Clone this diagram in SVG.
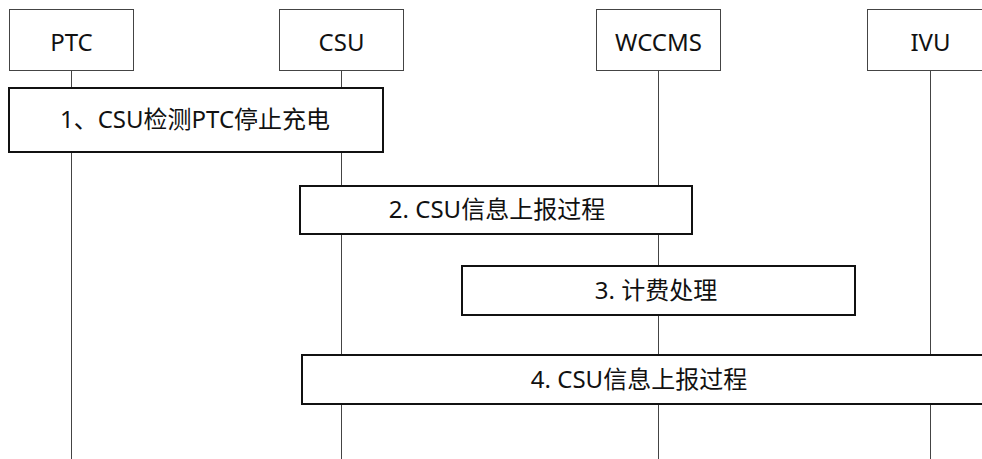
<svg xmlns="http://www.w3.org/2000/svg" width="982" height="459" viewBox="0 0 982 459">
<style>
.head{fill:#fff;stroke:#444;stroke-width:1}
.life{stroke:#444;stroke-width:1;fill:none}
.step{fill:#fff;stroke:#111;stroke-width:2}
text{font-family:"Noto Sans","Noto Sans CJK SC",sans-serif;font-size:24px;fill:#111;text-anchor:middle;dominant-baseline:central}
</style>
<rect width="982" height="459" fill="#fff"/>
<g id="lifelines">
<line class="life" x1="71.5" y1="71" x2="71.5" y2="459"/>
<line class="life" x1="341.5" y1="71" x2="341.5" y2="459"/>
<line class="life" x1="658.5" y1="71" x2="658.5" y2="459"/>
<line class="life" x1="930.5" y1="71" x2="930.5" y2="459"/>
</g>
<g id="PTC"><rect class="head" x="9.5" y="9.5" width="124" height="61"/><text x="71.5" y="41">PTC</text></g>
<g id="CSU"><rect class="head" x="279.5" y="9.5" width="124" height="61"/><text x="341.5" y="41">CSU</text></g>
<g id="WCCMS"><rect class="head" x="596.5" y="9.5" width="124" height="61"/><text x="658.5" y="41">WCCMS</text></g>
<g id="IVU"><rect class="head" x="867.5" y="9.5" width="124" height="61"/><text x="930.5" y="41">IVU</text></g>
<g id="step1"><rect class="step" x="9" y="88" width="374" height="64"/><text x="195" y="118">1、CSU检测PTC停止充电</text></g>
<g id="step2"><rect class="step" x="300" y="186" width="392" height="48"/><text x="497" y="208">2. CSU信息上报过程</text></g>
<g id="step3"><rect class="step" x="462" y="266" width="393" height="49"/><text x="656" y="289">3. 计费处理</text></g>
<g id="step4"><rect class="step" x="302" y="355" width="690" height="49"/><text x="639" y="378">4. CSU信息上报过程</text></g>
</svg>
